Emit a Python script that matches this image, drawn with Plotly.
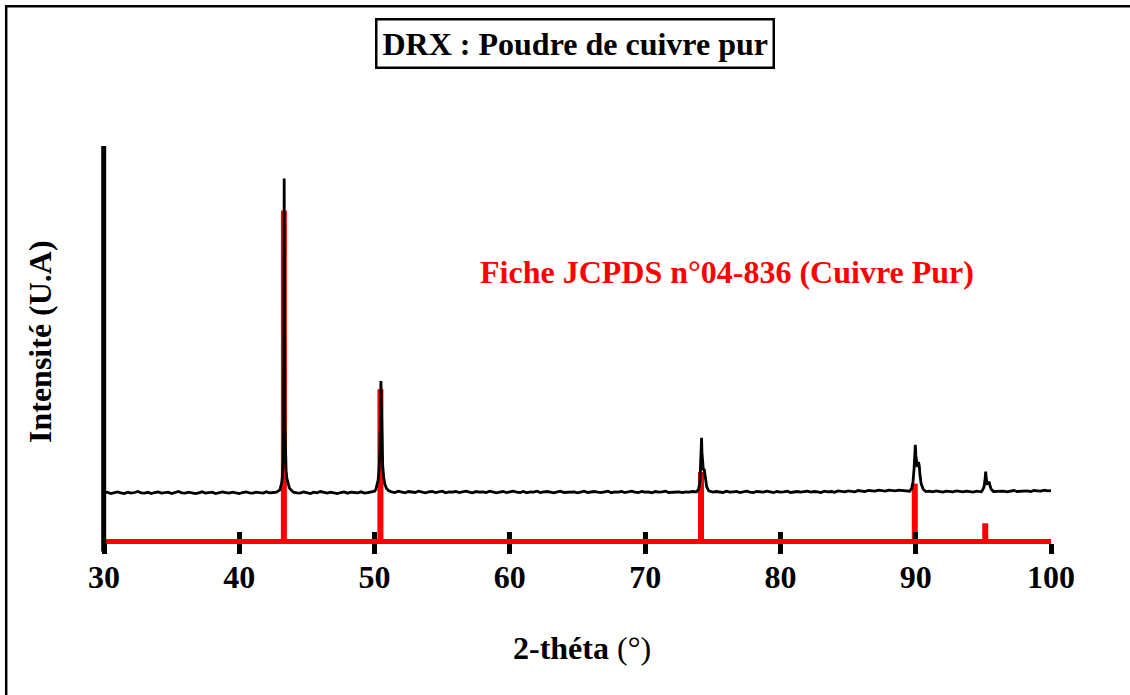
import numpy as np
import plotly.graph_objects as go

# ---------------- data ----------------
# Reference card JCPDS 04-836 (Cu): 2-theta positions and relative intensities
ref_theta = [43.297, 50.433, 74.130, 89.931, 95.139]
ref_intensity = [100.0, 46.0, 21.0, 17.5, 5.5]

STEP = 0.25  # background scan step (deg)

# background segments: (start angle, intensities at STEP spacing)
bg_a_start = 30.00
bg_a = [14.6, 14.9, 14.5, 14.8, 15.0, 14.7, 14.5, 14.9, 14.6, 14.8,
        15.1, 14.7, 14.6, 14.9, 14.5, 14.8, 15.0, 14.6, 14.7, 14.9,
        14.5, 14.8, 15.1, 14.7, 14.6, 14.9, 14.8, 14.5, 14.7, 15.0,
        14.6, 14.8, 14.9, 14.5, 14.7, 15.0, 14.8, 14.6, 14.9, 14.7,
        14.5, 14.8, 15.0, 14.7, 14.6, 14.9, 14.8, 14.6, 15.0, 14.7,
        14.8, 14.9]
bg_b_start = 44.00
bg_b = [14.9, 14.7, 14.6, 15.0, 14.8, 14.5, 14.9, 14.7, 15.1, 14.8,
        14.6, 14.9, 14.7, 14.5, 14.8, 15.0, 14.6, 14.9, 14.8, 14.7,
        15.0, 14.6, 14.8, 14.9]
bg_c_start = 51.25
bg_c = [15.0, 14.8, 15.2, 14.9, 14.7, 15.1, 15.0, 14.8, 15.2, 14.9,
        14.7, 15.0, 15.1, 14.8, 14.9, 15.2, 14.7, 15.0, 14.9, 15.1,
        14.8, 15.0, 15.2, 14.9, 14.7, 15.1, 14.9, 15.0, 14.8, 15.2,
        15.0, 14.7, 14.9, 15.1, 14.8, 15.0, 15.2, 14.9, 14.8, 15.1,
        14.7, 15.0, 14.9, 15.2, 14.8, 15.0, 15.1, 14.9, 14.7, 15.0,
        15.2, 14.8, 14.9, 15.1, 15.0, 14.7, 14.9, 15.2, 14.8, 15.0,
        15.1, 14.9, 14.8, 15.0, 15.2, 14.7, 15.0, 14.9, 15.1, 14.8,
        15.0, 15.2, 14.9, 14.8, 15.1, 14.9, 15.0, 14.7, 15.1, 14.9,
        15.0, 15.2, 14.8, 14.9, 15.1, 15.0, 14.8, 15.0, 14.9, 15.1]
bg_d_start = 75.00
bg_d = [14.9, 15.1, 15.0, 14.8, 15.2, 14.9, 15.0, 15.1, 14.8, 15.0,
        15.2, 14.9, 14.8, 15.1, 15.0, 14.9, 15.2, 15.0, 14.8, 15.1,
        14.9, 15.0, 15.2, 14.8, 15.0, 15.1, 14.9, 15.0, 15.2, 14.9,
        15.1, 15.0, 14.8, 15.2, 15.0, 15.1, 14.9, 15.3, 15.1, 15.0,
        15.3, 15.2, 15.0, 15.4, 15.2, 15.1, 15.4, 15.3, 15.2, 15.5,
        15.3, 15.2, 15.5, 15.4, 15.3, 15.5, 15.4, 15.3]
bg_e_start = 91.00
bg_e = [15.2, 15.0, 15.3, 15.1, 14.9, 15.2, 15.1, 15.0, 15.3, 15.1,
        15.0, 15.2, 15.1, 14.9, 15.2]
bg_f_start = 96.00
bg_f = [15.1, 15.3, 15.2, 15.0, 15.3, 15.4, 15.1, 15.2, 15.4, 15.3,
        15.1, 15.4, 15.3, 15.2, 15.5, 15.3, 15.4]

# measured peak regions (finer sampling)
pk1_theta = [43.00, 43.08, 43.14, 43.19, 43.24, 43.27, 43.30, 43.32, 43.34,
             43.37, 43.41, 43.46, 43.52, 43.60, 43.70, 43.85]
pk1_int = [15.6, 16.5, 17.8, 20.0, 24.5, 33.0, 70.0, 109.7, 72.0,
           36.0, 26.0, 21.5, 19.0, 17.3, 16.2, 15.5]
pk2_theta = [50.00, 50.10, 50.18, 50.26, 50.33, 50.39, 50.43, 50.47, 50.51,
             50.55, 50.60, 50.67, 50.76, 50.88, 51.05]
pk2_int = [15.2, 15.8, 16.8, 18.5, 21.5, 27.0, 37.0, 48.5, 40.0,
           29.0, 23.0, 19.5, 17.3, 16.0, 15.3]
pk3_theta = [73.80, 73.95, 74.05, 74.10, 74.14, 74.17, 74.20, 74.24, 74.30,
             74.36, 74.40, 74.46, 74.55, 74.70]
pk3_int = [15.0, 15.8, 18.0, 23.0, 29.0, 31.3, 27.0, 22.5, 21.5,
           22.0, 21.0, 18.5, 16.5, 15.3]
pk4_theta = [89.55, 89.70, 89.80, 89.88, 89.93, 89.97, 90.01, 90.06, 90.12,
             90.20, 90.26, 90.32, 90.40, 90.55, 90.75]
pk4_int = [15.2, 16.0, 18.0, 22.0, 27.0, 29.2, 26.0, 23.0, 22.5,
           24.0, 23.0, 20.0, 17.5, 15.8, 15.1]
pk5_theta = [94.85, 94.95, 95.05, 95.12, 95.17, 95.22, 95.28, 95.35, 95.42,
             95.48, 95.58, 95.75]
pk5_int = [15.0, 15.6, 16.5, 18.5, 21.1, 19.0, 17.5, 17.6, 18.1,
           17.0, 15.8, 15.1]

# tick labels on the 2-theta axis
x_ticks = [30, 40, 50, 60, 70, 80, 90, 100]
x_tick_text = ["30", "40", "50", "60", "70", "80", "90", "100"]


def bg_theta(start, values):
    return [round(start + STEP * i, 2) for i in range(len(values))]


scan_theta = (bg_theta(bg_a_start, bg_a) + pk1_theta + bg_theta(bg_b_start, bg_b)
              + pk2_theta + bg_theta(bg_c_start, bg_c) + pk3_theta
              + bg_theta(bg_d_start, bg_d) + pk4_theta + bg_theta(bg_e_start, bg_e)
              + pk5_theta + bg_theta(bg_f_start, bg_f))
scan_int = (bg_a + pk1_int + bg_b + pk2_int + bg_c + pk3_int + bg_d + pk4_int
            + bg_e + pk5_int + bg_f)

# stick pattern for the reference card
stick_x, stick_y = [], []
for t, i in zip(ref_theta, ref_intensity):
    stick_x += [t, t, None]
    stick_y += [0, i, None]

# ---------------- layout geometry ----------------
W, H = 1130, 695
ML, MR, MT, MB = 104, 79, 146, 156
PW, PH = W - ML - MR, H - MT - MB
PX_PER_UNIT = 3.31                      # vertical scale of the intensity axis
Y_LOW = 2.5 / PX_PER_UNIT                # zero sits on the centre of the red axis line
Y_HIGH = Y_LOW + PH / PX_PER_UNIT


def px(x):
    return (x - ML) / PW


def py(y):
    return (H - MB - y) / PH


FONT = "Liberation Serif"
X_RANGE = [30, 100]
Y_RANGE = [Y_LOW, Y_HIGH]

fig = go.Figure()

fig.add_trace(go.Scatter(
    x=stick_x, y=stick_y, mode="lines",
    line=dict(color="#ff0000", width=6),
    xaxis="x", yaxis="y", hoverinfo="skip", showlegend=False,
))
fig.add_trace(go.Scatter(
    x=scan_theta, y=scan_int, mode="lines",
    line=dict(color="black", width=2.8),
    xaxis="x2", yaxis="y", showlegend=False,
))

fig.update_layout(
    width=W, height=H,
    margin=dict(l=ML, r=MR, t=MT, b=MB),
    paper_bgcolor="white", plot_bgcolor="white",
    font=dict(family=FONT, size=32, color="black"),
    showlegend=False,
    xaxis=dict(
        range=X_RANGE, tickvals=x_ticks, ticktext=x_tick_text,
        showline=True, linecolor="#ff0000", linewidth=5,
        ticks="outside", ticklen=10, tickwidth=5, tickcolor="black",
        ticklabelstandoff=-4,
        tickfont=dict(family=FONT, size=32, color="black", weight="bold"),
        showgrid=False, zeroline=False,
    ),
    xaxis2=dict(
        range=X_RANGE, overlaying="x", anchor="y", side="bottom",
        tickvals=x_ticks, showticklabels=False,
        ticks="inside", ticklen=7, tickwidth=5, tickcolor="black",
        showline=False, showgrid=False, zeroline=False,
    ),
    yaxis=dict(
        range=Y_RANGE, showline=False, showticklabels=False, ticks="",
        showgrid=False, zeroline=False,
    ),
)

# vertical intensity axis (extends slightly below the 2-theta axis)
fig.add_shape(type="line", xref="paper", yref="paper",
              x0=px(103.7), x1=px(103.7), y0=py(551.5), y1=py(146),
              line=dict(color="black", width=5), layer="above")

# outer frame (left and top edges)
fig.add_shape(type="line", xref="paper", yref="paper",
              x0=px(6.2), x1=px(6.2), y0=py(6), y1=py(700),
              line=dict(color="black", width=2.5), layer="above")
fig.add_shape(type="line", xref="paper", yref="paper",
              x0=px(5), x1=px(1135), y0=py(6.2), y1=py(6.2),
              line=dict(color="black", width=2.5), layer="above")

CENTERED = dict(xref="paper", yref="paper", xanchor="center", yanchor="middle",
                showarrow=False)

# boxed title
fig.add_annotation(
    text="DRX : Poudre de cuivre pur", x=px(574.5), y=py(43.5), **CENTERED,
    font=dict(family=FONT, size=32, color="black", weight="bold"),
    bordercolor="black", borderwidth=2.5, borderpad=5, bgcolor="white",
)

# reference card label
fig.add_annotation(
    text="Fiche JCPDS n°04-836 (Cuivre Pur)", x=px(726.5), y=py(272), **CENTERED,
    font=dict(family=FONT, size=32, color="#ff0000", weight="bold"),
)

# axis titles
fig.add_annotation(
    text="<b>2-théta</b> (°)", x=px(582), y=py(648), **CENTERED,
    font=dict(family=FONT, size=32, color="black"),
)
fig.add_annotation(
    text="Intensité (U.A)", x=px(40), y=py(342), textangle=-90, **CENTERED,
    font=dict(family=FONT, size=32, color="black", weight="bold"),
)

fig.write_html("out.html")
